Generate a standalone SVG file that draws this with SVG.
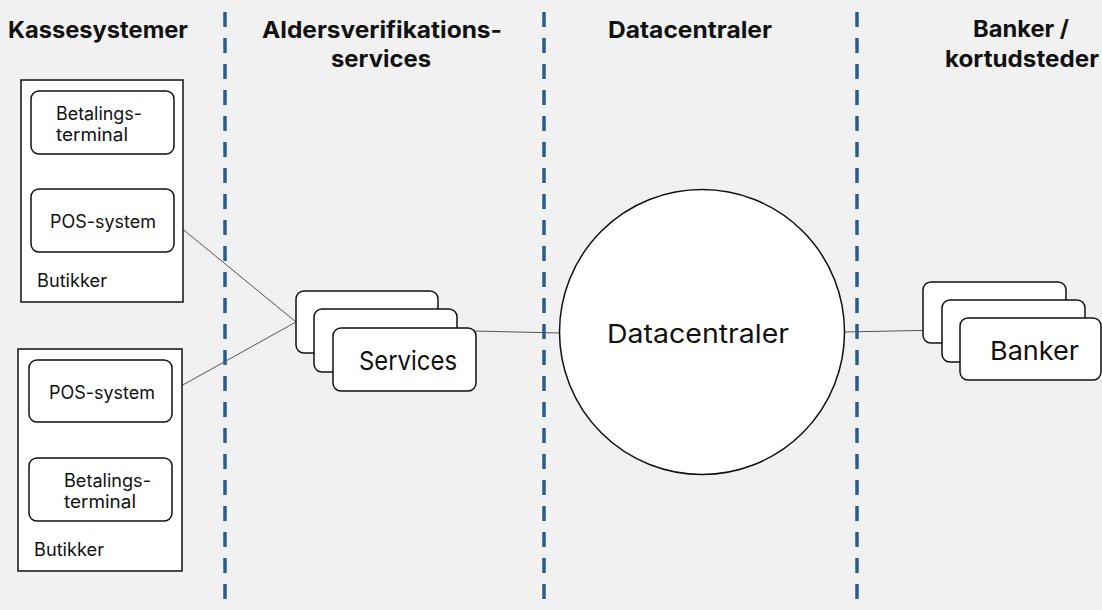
<svg xmlns="http://www.w3.org/2000/svg" width="1102" height="610" viewBox="0 0 1102 610">
  <style>
    .head { font-family: Inter, "Liberation Sans", sans-serif; font-weight: 700; font-size: 23px; fill: #111; }
    .lbl { font-family: Inter, "Liberation Sans", sans-serif; font-size: 18px; fill: #111; }
    .big { font-family: Inter, "Liberation Sans", sans-serif; font-size: 26px; fill: #111; }
    .lane { stroke: #2b5d8c; stroke-width: 3.5; stroke-dasharray: 15 11; fill: none; }
    .store { fill: #fff; stroke: #111; stroke-width: 1.5; }
    .box { fill: #fff; stroke: #111; stroke-width: 1.5; }
    .link { stroke: #555; stroke-width: 1; fill: none; }
  </style>

  <rect width="1102" height="610" fill="#f1f1f1"/>

  <!-- swimlane separators -->
  <g id="lanes">
    <line class="lane" x1="225" y1="12" x2="225" y2="610"/>
    <line class="lane" x1="544" y1="12" x2="544" y2="610"/>
    <line class="lane" x1="857" y1="12" x2="857" y2="610"/>
  </g>

  <!-- column headings -->
  <g id="headings">
    <text class="head" x="8" y="38" textLength="180" lengthAdjust="spacingAndGlyphs">Kassesystemer</text>
    <text class="head" x="262" y="38" textLength="240" lengthAdjust="spacingAndGlyphs">Aldersverifikations-</text>
    <text class="head" x="331" y="67" textLength="100" lengthAdjust="spacingAndGlyphs">services</text>
    <text class="head" x="608" y="38" textLength="164" lengthAdjust="spacingAndGlyphs">Datacentraler</text>
    <text class="head" x="973" y="37" textLength="96" lengthAdjust="spacingAndGlyphs">Banker /</text>
    <text class="head" x="945" y="67" textLength="154" lengthAdjust="spacingAndGlyphs">kortudsteder</text>
  </g>

  <!-- connectors -->
  <g id="connectors">
    <line class="link" x1="103" y1="154" x2="103" y2="189"/>
    <line class="link" x1="100" y1="422" x2="100" y2="458"/>
    <line class="link" x1="174" y1="222" x2="296" y2="322"/>
    <line class="link" x1="172" y1="391" x2="296" y2="322"/>
    <line class="link" x1="474" y1="331" x2="560" y2="333"/>
    <line class="link" x1="844" y1="332" x2="942" y2="330"/>
  </g>

  <!-- store 1 -->
  <g id="store-top">
    <rect class="store" x="21" y="80" width="162" height="222"/>
    <g id="terminal-top">
      <rect class="box" x="31" y="91" width="143" height="63" rx="8"/>
      <text class="lbl" x="56" y="120" textLength="86" lengthAdjust="spacingAndGlyphs">Betalings-</text>
      <text class="lbl" x="56" y="141" textLength="72" lengthAdjust="spacingAndGlyphs">terminal</text>
    </g>
    <g id="pos-top">
      <rect class="box" x="31" y="189" width="143" height="63" rx="8"/>
      <text class="lbl" x="50" y="228" textLength="106" lengthAdjust="spacingAndGlyphs">POS-system</text>
    </g>
    <text class="lbl" x="37" y="287" textLength="70" lengthAdjust="spacingAndGlyphs">Butikker</text>
  </g>

  <!-- store 2 -->
  <g id="store-bottom">
    <rect class="store" x="18" y="349" width="164" height="222"/>
    <g id="pos-bottom">
      <rect class="box" x="29" y="360" width="143" height="62" rx="8"/>
      <text class="lbl" x="49" y="399" textLength="106" lengthAdjust="spacingAndGlyphs">POS-system</text>
    </g>
    <g id="terminal-bottom">
      <rect class="box" x="29" y="458" width="143" height="63" rx="8"/>
      <text class="lbl" x="64" y="487" textLength="87" lengthAdjust="spacingAndGlyphs">Betalings-</text>
      <text class="lbl" x="64" y="508" textLength="72" lengthAdjust="spacingAndGlyphs">terminal</text>
    </g>
    <text class="lbl" x="34" y="556" textLength="70" lengthAdjust="spacingAndGlyphs">Butikker</text>
  </g>

  <!-- age verification services (stack) -->
  <g id="services">
    <rect class="box" x="296" y="291" width="142" height="62" rx="8"/>
    <rect class="box" x="314" y="309" width="143" height="63" rx="8"/>
    <rect class="box" x="333" y="328" width="143" height="63" rx="8"/>
    <text class="big" x="359" y="370" textLength="98" lengthAdjust="spacingAndGlyphs">Services</text>
  </g>

  <!-- data centre -->
  <g id="datacentre">
    <circle class="box" cx="702" cy="332" r="142.5"/>
    <text class="big" x="607" y="343" font-size="27.5" textLength="182" lengthAdjust="spacingAndGlyphs">Datacentraler</text>
  </g>

  <!-- banks (stack) -->
  <g id="banks">
    <rect class="box" x="923" y="282" width="143" height="61" rx="8"/>
    <rect class="box" x="942" y="300" width="143" height="62" rx="8"/>
    <rect class="box" x="960" y="318" width="141" height="62" rx="8"/>
    <text class="big" x="990" y="360" textLength="89" lengthAdjust="spacingAndGlyphs">Banker</text>
  </g>
</svg>
